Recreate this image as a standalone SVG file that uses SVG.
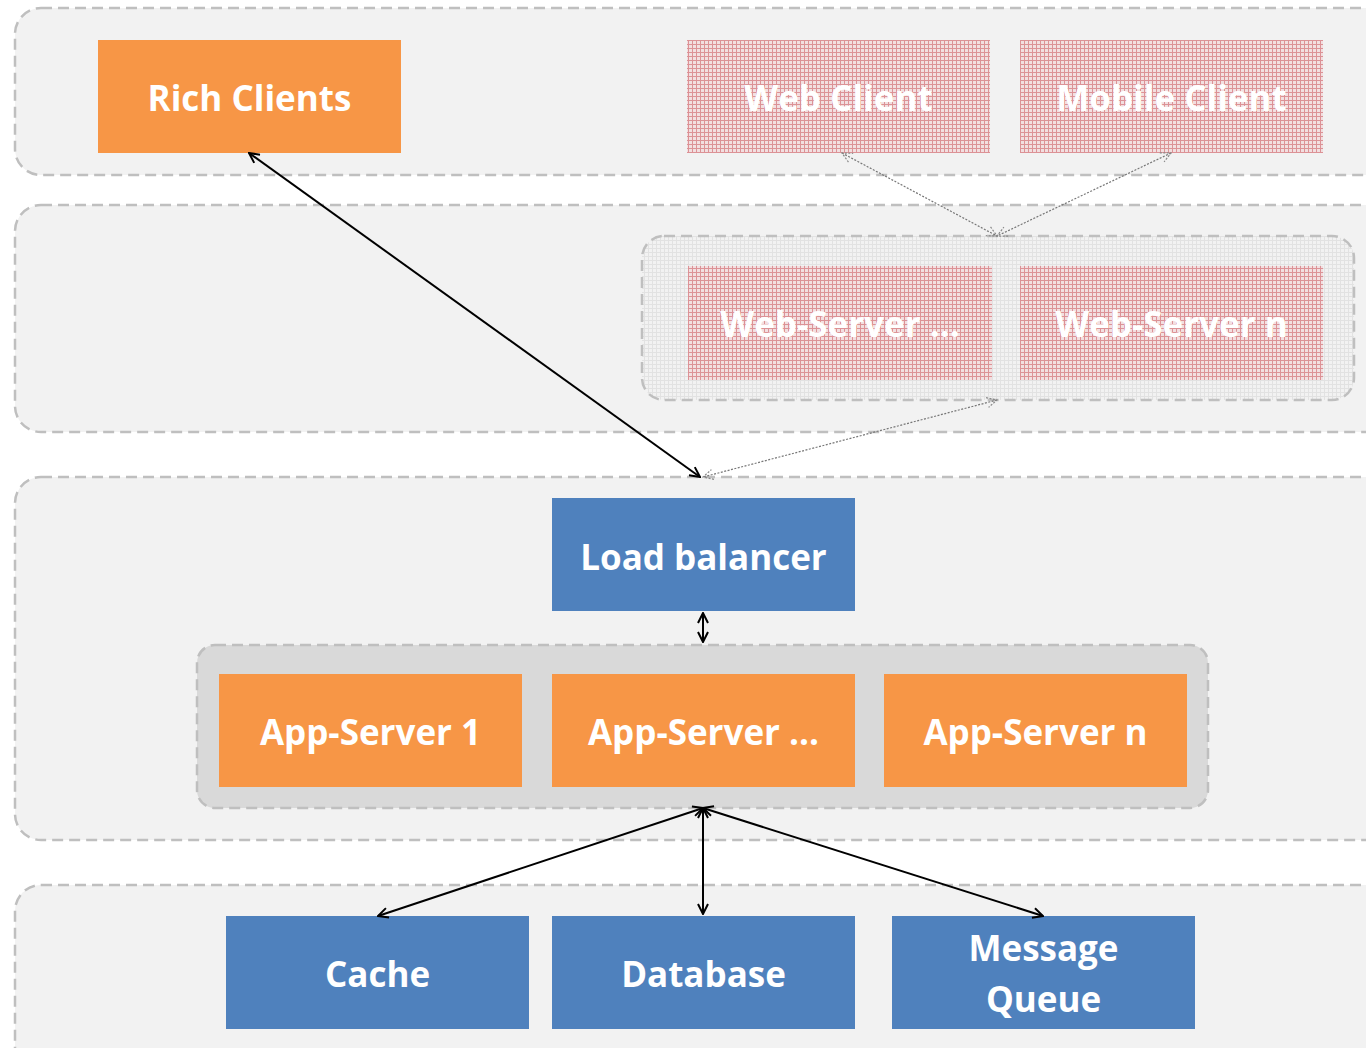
<svg xmlns="http://www.w3.org/2000/svg" width="1366" height="1048" viewBox="0 0 1366 1048">
<style>
.layer{fill:#f2f2f2;stroke:#bfbfbf;stroke-width:2.5;stroke-dasharray:11 6}
.grp{stroke:#bfbfbf;stroke-width:2.5;stroke-dasharray:11 6}
.orange{fill:#f79646}
.blue{fill:#4f81bd}
.lbl{font-family:"Open Sans","Liberation Sans",sans-serif;font-weight:bold;font-size:35px;fill:#ffffff;text-anchor:middle;dominant-baseline:central}
.solid{stroke:#000;stroke-width:2;fill:none;marker-start:url(#ah);marker-end:url(#ah)}
.dot{stroke:#777;stroke-width:1.2;stroke-dasharray:2 1.5;fill:none;marker-start:url(#ahg);marker-end:url(#ahg)}
</style>
<defs>
<pattern id="red" width="4" height="4" patternUnits="userSpaceOnUse">
<rect width="4" height="4" fill="#f2dfe0"/>
<path d="M0 0.5H4M0.5 0V4" stroke="#dc9296" stroke-width="1"/>
</pattern>
<pattern id="gray" width="4" height="4" patternUnits="userSpaceOnUse">
<rect width="4" height="4" fill="#f2f2f2"/>
<path d="M0 0.5H4M0.5 0V4" stroke="#e2e2e2" stroke-width="1"/>
</pattern>
<marker id="ah" viewBox="0 0 12 12" refX="11" refY="6" markerWidth="12" markerHeight="12" markerUnits="userSpaceOnUse" orient="auto-start-reverse">
<path d="M1 1L11 6L1 11" fill="none" stroke="#000" stroke-width="2"/>
</marker>
<marker id="ahg" viewBox="0 0 12 12" refX="11" refY="6" markerWidth="12" markerHeight="12" markerUnits="userSpaceOnUse" orient="auto-start-reverse">
<path d="M1 1L11 6L1 11" fill="none" stroke="#888" stroke-width="1.2" stroke-dasharray="2 1.5"/>
</marker>
</defs>
<g id="layers">
<rect class="layer" x="15" y="8" width="1380" height="167" rx="26"/>
<rect class="layer" x="15" y="205" width="1380" height="227" rx="26"/>
<rect class="layer" x="15" y="477" width="1380" height="363" rx="26"/>
<rect class="layer" x="15" y="885" width="1380" height="190" rx="26"/>
</g>
<g id="webserver-group"><rect class="grp" x="642" y="236" width="712" height="164" rx="22" fill="url(#gray)"/></g>
<g id="appserver-group"><rect class="grp" x="197" y="645" width="1011" height="163" rx="18" fill="#d9d9d9"/></g>
<g id="rich-clients"><rect class="orange" x="98" y="40" width="303" height="113"/><text class="lbl" x="249.5" y="97">Rich Clients</text></g>
<g id="web-client"><rect fill="url(#red)" x="687" y="40" width="303" height="113"/><text class="lbl" x="838.5" y="97">Web Client</text></g>
<g id="mobile-client"><rect fill="url(#red)" x="1020" y="40" width="303" height="113"/><text class="lbl" x="1171.5" y="97">Mobile Client</text></g>
<g id="web-server-dots"><rect fill="url(#red)" x="688" y="266" width="304" height="114"/><text class="lbl" x="840" y="323">Web-Server ...</text></g>
<g id="web-server-n"><rect fill="url(#red)" x="1020" y="266" width="303" height="114"/><text class="lbl" x="1171.5" y="323">Web-Server n</text></g>
<g id="load-balancer"><rect class="blue" x="552" y="498" width="303" height="113"/><text class="lbl" x="703.5" y="556">Load balancer</text></g>
<g id="app-server-1"><rect class="orange" x="219" y="674" width="303" height="113"/><text class="lbl" x="370.5" y="731">App-Server 1</text></g>
<g id="app-server-dots"><rect class="orange" x="552" y="674" width="303" height="113"/><text class="lbl" x="703.5" y="731">App-Server ...</text></g>
<g id="app-server-n"><rect class="orange" x="884" y="674" width="303" height="113"/><text class="lbl" x="1035.5" y="731">App-Server n</text></g>
<g id="cache"><rect class="blue" x="226" y="916" width="303" height="113"/><text class="lbl" x="377.5" y="973">Cache</text></g>
<g id="database"><rect class="blue" x="552" y="916" width="303" height="113"/><text class="lbl" x="703.5" y="973">Database</text></g>
<g id="message-queue"><rect class="blue" x="892" y="916" width="303" height="113"/><text class="lbl" x="1043.5" y="947">Message</text><text class="lbl" x="1043.5" y="998">Queue</text></g>
<g id="connectors">
<line class="solid" x1="249" y1="153" x2="700" y2="477"/>
<line class="dot" x1="842" y1="153" x2="997" y2="236"/>
<line class="dot" x1="1171" y1="153" x2="997" y2="236"/>
<line class="dot" x1="997" y1="400" x2="703" y2="477"/>
<line class="solid" x1="703" y1="613" x2="703" y2="642"/>
<line class="solid" x1="703" y1="808" x2="378" y2="916"/>
<line class="solid" x1="703" y1="808" x2="703" y2="914"/>
<line class="solid" x1="703" y1="808" x2="1043" y2="916"/>
</g>
</svg>
